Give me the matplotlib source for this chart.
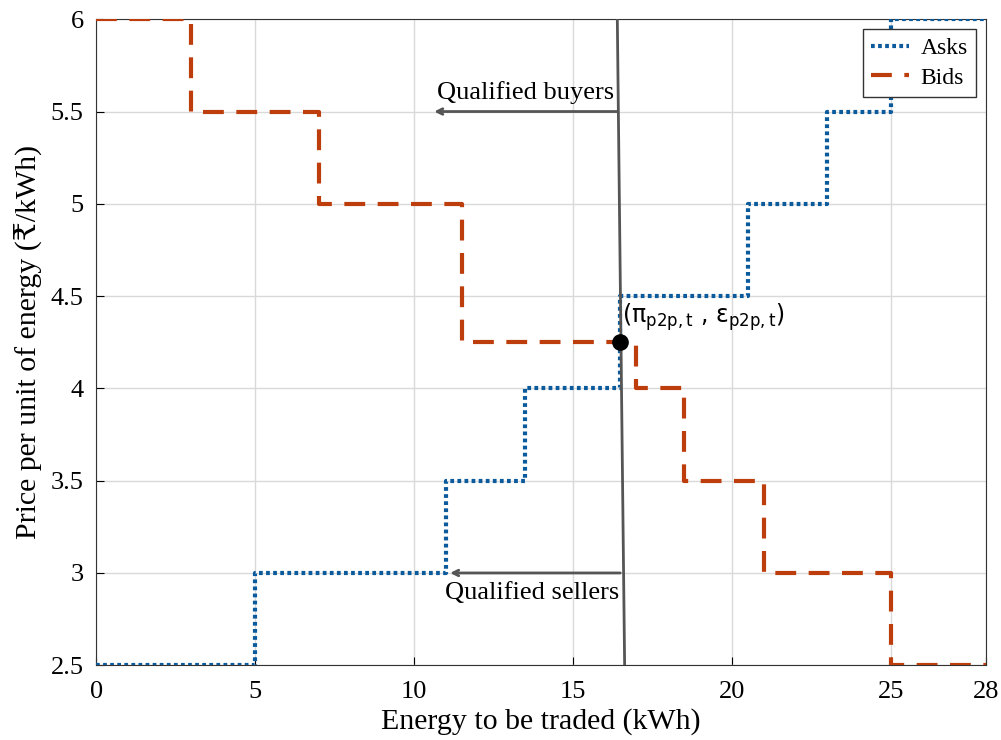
import matplotlib.pyplot as plt
import numpy as np

# step data (energy in kWh, price in Rs/kWh)
ask_x = [0, 5, 11, 13.5, 16.5, 20.5, 23, 25, 28]
ask_p = [2.5, 3, 3.5, 4, 4.5, 5, 5.5, 6]
bid_x = [0, 3, 7, 11.5, 17, 18.5, 21, 25, 28]
bid_p = [6, 5.5, 5, 4.25, 4, 3.5, 3, 2.5]

# market clearing line and point
clear_x = [16.4, 16.63]
clear_y = [6, 2.5]
eq_x, eq_p = 16.5, 4.25

x_ticks = [0, 5, 10, 15, 20, 25, 28]
y_ticks = [2.5, 3, 3.5, 4, 4.5, 5, 5.5, 6]

plt.rcParams['font.family'] = ['Liberation Serif', 'DejaVu Serif', 'DejaVu Sans']

fig = plt.figure(figsize=(10.01, 7.4), dpi=100)
ax = fig.add_axes([0.096, 0.101, 0.889, 0.873])

def steps(xs, ps):
    sx, sy = [], []
    for i, p in enumerate(ps):
        sx += [xs[i], xs[i + 1]]
        sy += [p, p]
    return sx, sy

ax.grid(True, color='#d9d9d9', lw=1)
ax.set_axisbelow(True)

sx, sy = steps(ask_x, ask_p)
ax.plot(sx, sy, color='#0a5a9c', lw=3, ls=(0, (0.9, 0.8)), label='Asks', zorder=3)
sx, sy = steps(bid_x, bid_p)
ax.plot(sx, sy, color='#bd3d0c', lw=3, ls=(0, (5, 3)), label='Bids', zorder=3)

ax.plot(clear_x, clear_y, color='#555555', lw=2, zorder=4)
ax.plot(eq_x, eq_p, 'o', color='black', ms=11, zorder=5)
ax.text(eq_x + 0.05, eq_p + 0.05, r'($\mathregular{\pi_{p2p,t}}$ , $\mathregular{\varepsilon_{p2p,t}}$)',
        family=['DejaVu Sans'], fontsize=17, va='bottom', ha='left')

arrow = dict(arrowstyle='->', color='#555555', lw=2)
ax.annotate('', xy=(10.55, 5.5), xytext=(16.48, 5.5), arrowprops=arrow)
ax.annotate('', xy=(11.05, 3), xytext=(16.58, 3), arrowprops=arrow)
ax.text(16.3, 5.54, 'Qualified buyers', ha='right', va='bottom', fontsize=19)
ax.text(16.45, 2.95, 'Qualified sellers', ha='right', va='top', fontsize=19)

ax.set_xlim(0, 28)
ax.set_ylim(2.5, 6)
ax.set_xticks(x_ticks)
ax.set_yticks(y_ticks)
ax.set_yticklabels(['2.5', '3', '3.5', '4', '4.5', '5', '5.5', '6'])
ax.tick_params(labelsize=19, direction='in', length=6)
ax.tick_params(axis='x', pad=11)
ax.tick_params(axis='y', pad=9)
ax.set_xlabel('Energy to be traded (kWh)', fontsize=21.5, labelpad=4)
ax.set_ylabel('Price per unit of energy (₹/kWh)', fontsize=21.5, labelpad=6)
for s in ax.spines.values():
    s.set_color('#333333')

leg = ax.legend(loc='upper right', fontsize=17, fancybox=False, framealpha=1,
                edgecolor='#333333', handlelength=1.6, handletextpad=0.5,
                borderpad=0.35, borderaxespad=0.42, labelspacing=0.35)

fig.savefig('out.png', dpi=100)
